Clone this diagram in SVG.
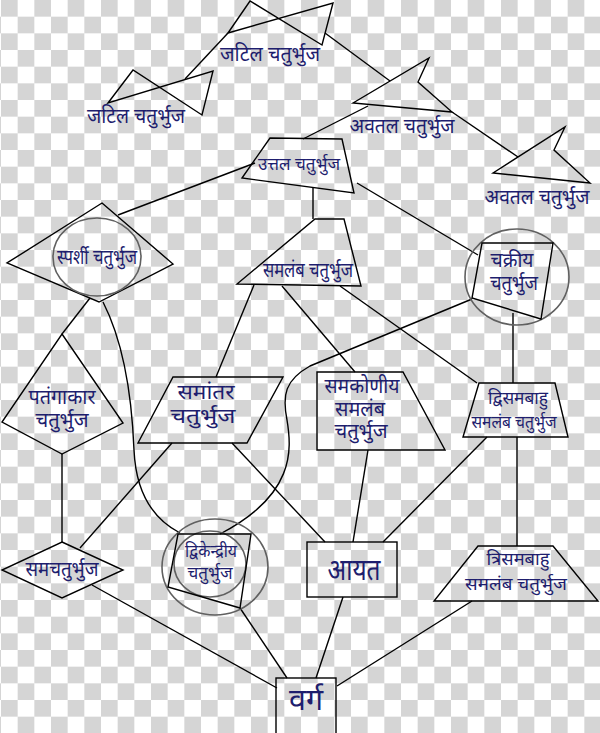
<svg xmlns="http://www.w3.org/2000/svg" width="600" height="733" viewBox="0 0 600 733">
<defs>
<pattern id="chk" patternUnits="userSpaceOnUse" x="1" y="0" width="33.333" height="33.333">
<rect width="33.333" height="33.333" fill="#ffffff"/>
<rect x="0" y="0" width="16.667" height="16.667" fill="#d5d5d5"/>
<rect x="16.667" y="16.667" width="16.667" height="16.667" fill="#d5d5d5"/>
</pattern>
<style>
.s{fill:none;stroke:#000;stroke-width:1.4;stroke-linejoin:miter}
.c{fill:none;stroke:#606060;stroke-width:1.6}
.t{font-family:"Noto Sans Devanagari","Noto Sans","Lohit Devanagari",sans-serif;fill:#1e1e6e;text-anchor:middle;font-size:20px}
.b{font-size:30px}
.m{font-size:18px}
</style>
</defs>
<rect width="600" height="733" fill="url(#chk)"/>
<g id="connectors" class="s">
<path d="M185,79 L228,33"/>
<path d="M325,33 L390,81"/>
<path d="M452,112 L518,157"/>
<path d="M303,139 L368,106"/>
<path d="M118,215 L255,163"/>
<path d="M357,183 L478,255"/>
<path d="M313,188 L313,219"/>
<path d="M90,298 L62,334"/>
<path d="M103,302 C125,345 132,400 134,450 C136,495 155,520 180,533"/>
<path d="M472,299 L310,366 C285,380 282,395 287,420 C292,450 295,495 220,534"/>
<path d="M62,454 L62,542"/>
<path d="M80,548 L172,443"/>
<path d="M92,585 L277,688"/>
<path d="M216,377 L254,285"/>
<path d="M232,443 L325,542"/>
<path d="M282,286 L355,372"/>
<path d="M340,286 L477,383"/>
<path d="M368,450 L353,542"/>
<path d="M513,313 L513,383"/>
<path d="M487,437 L383,542"/>
<path d="M517,437 L517,546"/>
<path d="M343,597 L316,678"/>
<path d="M472,601 L337,686"/>
<path d="M240,608 L287,678"/>
</g>
<g id="jatil1">
<polygon class="s" points="228,33 250,1 322,45 333,3"/>
<text class="t" x="270" y="61" textLength="100" lengthAdjust="spacingAndGlyphs">जटिल चतुर्भुज</text>
</g>
<g id="jatil2">
<polygon class="s" points="108,103 133,70 202,115 213,71"/>
<text class="t" x="136" y="123" textLength="98" lengthAdjust="spacingAndGlyphs">जटिल चतुर्भुज</text>
</g>
<g id="avatal1">
<polygon class="s" points="353,103 429,58 418,82 452,112"/>
<text class="t" x="402" y="133" textLength="105" lengthAdjust="spacingAndGlyphs">अवतल चतुर्भुज</text>
</g>
<g id="avatal2">
<polygon class="s" points="493,173 565,127 554,150 590,183"/>
<text class="t" x="537" y="204" textLength="105" lengthAdjust="spacingAndGlyphs">अवतल चतुर्भुज</text>
</g>
<g id="uttal">
<polygon class="s" points="270,138 342,139 354,193 242,178"/>
<text class="t m" x="299" y="170" textLength="82" lengthAdjust="spacingAndGlyphs">उत्तल चतुर्भुज</text>
</g>
<g id="sparshi">
<polygon class="s" points="102,203 173,264 99,302 7,263"/>
<ellipse class="c" cx="97" cy="257" rx="44" ry="39"/>
<text class="t" x="97" y="264" textLength="80" lengthAdjust="spacingAndGlyphs">स्पर्शी चतुर्भुज</text>
</g>
<g id="samlamb">
<polygon class="s" points="315,219 344,219 361,286 237,284"/>
<text class="t" x="308" y="277" textLength="90" lengthAdjust="spacingAndGlyphs">समलंब चतुर्भुज</text>
</g>
<g id="chakriya">
<ellipse class="c" cx="517" cy="277" rx="52" ry="48"/>
<polygon class="s" points="482,243 553,243 541,319 472,298"/>
<text class="t" x="512" y="267" textLength="43" lengthAdjust="spacingAndGlyphs">चक्रीय</text>
<text class="t" x="514" y="290" textLength="48" lengthAdjust="spacingAndGlyphs">चतुर्भुज</text>
</g>
<g id="patangakar">
<polygon class="s" points="62,334 123,423 62,454 2,422"/>
<text class="t" x="62" y="404" textLength="67" lengthAdjust="spacingAndGlyphs">पतंगाकार</text>
<text class="t" x="62" y="427" textLength="53" lengthAdjust="spacingAndGlyphs">चतुर्भुज</text>
</g>
<g id="samantar">
<polygon class="s" points="173,377 283,377 247,443 138,443"/>
<text class="t" x="206" y="399" textLength="57" lengthAdjust="spacingAndGlyphs">समांतर</text>
<text class="t" x="203" y="423" textLength="65" lengthAdjust="spacingAndGlyphs">चतुर्भुज</text>
</g>
<g id="samkoniya">
<polygon class="s" points="317,372 403,372 445,450 317,450"/>
<text class="t" x="362" y="393" textLength="75" lengthAdjust="spacingAndGlyphs">समकोणीय</text>
<text class="t" x="360" y="416" textLength="50" lengthAdjust="spacingAndGlyphs">समलंब</text>
<text class="t" x="361" y="438" textLength="53" lengthAdjust="spacingAndGlyphs">चतुर्भुज</text>
</g>
<g id="dvisambahu">
<polygon class="s" points="479,383 555,383 568,437 463,437"/>
<text class="t m" x="518" y="404" textLength="60" lengthAdjust="spacingAndGlyphs">द्विसमबाहु</text>
<text class="t m" x="514" y="428" textLength="85" lengthAdjust="spacingAndGlyphs">समलंब चतुर्भुज</text>
</g>
<g id="samchaturbhuj">
<polygon class="s" points="62,542 123,570 62,598 2,570"/>
<text class="t" x="62" y="576" textLength="73" lengthAdjust="spacingAndGlyphs">समचतुर्भुज</text>
</g>
<g id="dvikendriya">
<ellipse class="c" cx="215" cy="567" rx="53" ry="48"/>
<ellipse class="c" cx="210" cy="564" rx="36" ry="33"/>
<polygon class="s" points="178,534 251,534 240,608 168,587"/>
<text class="t m" x="211" y="557" textLength="52" lengthAdjust="spacingAndGlyphs">द्विकेन्द्रीय</text>
<text class="t m" x="210" y="579" textLength="45" lengthAdjust="spacingAndGlyphs">चतुर्भुज</text>
</g>
<g id="aayat">
<rect class="s" x="307" y="542" width="90" height="55"/>
<text class="t b" x="354" y="580" textLength="53" lengthAdjust="spacingAndGlyphs">आयत</text>
</g>
<g id="trisambahu">
<polygon class="s" points="478,546 553,546 598,601 434,601"/>
<text class="t m" x="518" y="565" textLength="63" lengthAdjust="spacingAndGlyphs">त्रिसमबाहु</text>
<text class="t m" x="516" y="590" textLength="102" lengthAdjust="spacingAndGlyphs">समलंब चतुर्भुज</text>
</g>
<g id="varg">
<rect class="s" x="276" y="678" width="60" height="60"/>
<text class="t b" x="306" y="710" textLength="34" lengthAdjust="spacingAndGlyphs">वर्ग</text>
</g>
</svg>
